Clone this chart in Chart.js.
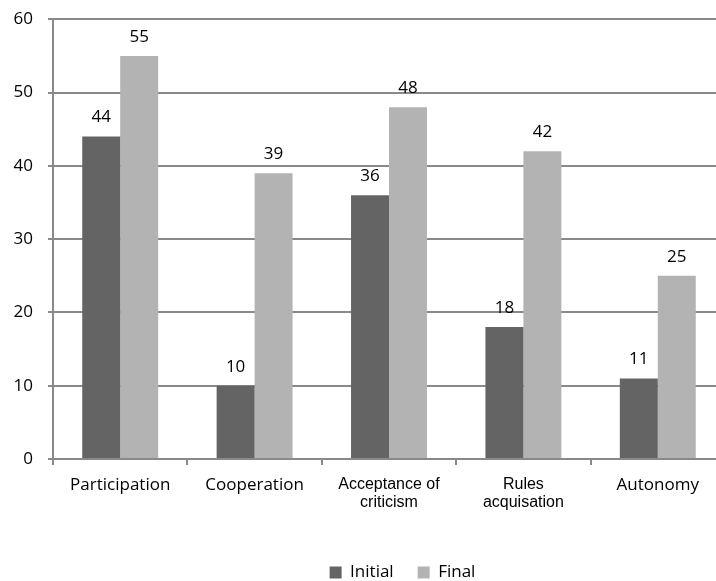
<!DOCTYPE html>
<html>
<head>
<meta charset="utf-8">
<script src="https://cdn.jsdelivr.net/npm/chart.js@4"></script>
<style>
  html, body { margin: 0; padding: 0; background: #fff; overflow: hidden; }
  #wrap { width: 726px; height: 591px; }
</style>
</head>
<body>
<div id="wrap"><canvas id="chart"></canvas></div>
<script>
// data
const categories = ["Participation", "Cooperation", ["Acceptance of", "criticism"], ["Rules", "acquisation"], "Autonomy"];
const initialValues = [44, 10, 36, 18, 11];
const finalValues = [55, 39, 48, 42, 25];
const yTicks = [0, 10, 20, 30, 40, 50, 60];

// small inline plugin for the numbers above each bar
const barValues = {
    id: "barValues",
    afterDatasetsDraw(chart) {
        const ctx = chart.ctx;
        ctx.save();
        ctx.font = "17px 'Open Sans'";
        ctx.fillStyle = "#000";
        ctx.textAlign = "center";
        ctx.textBaseline = "middle";
        chart.data.datasets.forEach((ds, i) => {
            chart.getDatasetMeta(i).data.forEach((bar, j) => {
                ctx.fillText(ds.data[j], bar.x, bar.y - 19);
            });
        });
        ctx.restore();
    }
};

// the original legend sits right of centre, nudge it over
const legendShift = {
    id: "legendShift",
    afterLayout(chart) {
        chart.legend.left += 40;
        chart.legend.right += 40;
    }
};

const gridColor = "#898989";

new Chart(document.getElementById("chart"), {
    type: "bar",
    data: {
        labels: categories,
        datasets: [
            { label: "Initial", data: initialValues, backgroundColor: "#646464", borderWidth: 0 },
            { label: "Final", data: finalValues, backgroundColor: "#b3b3b3", borderWidth: 0 }
        ]
    },
    options: {
        responsive: true,
        maintainAspectRatio: false,
        animation: false,
        layout: { padding: { top: 19, left: 0, right: 1, bottom: 0 } },
        datasets: { bar: { categoryPercentage: 0.565, barPercentage: 1 } },
        plugins: {
            tooltip: { enabled: false },
            legend: {
                position: "bottom",
                labels: {
                    font: { family: "Open Sans", size: 17 },
                    color: "#000",
                    boxWidth: 12,
                    boxHeight: 12,
                    padding: 24
                }
            }
        },
        scales: {
            x: {
                grid: { drawOnChartArea: false, drawTicks: true, tickLength: 6, color: gridColor, lineWidth: 2 },
                border: { color: gridColor, width: 2 },
                ticks: {
                    color: "#000",
                    padding: 10,
                    maxRotation: 0,
                    autoSkip: false,
                    font: c => (c.index === 2 || c.index === 3)
                        ? { family: "Liberation Sans", size: 16, lineHeight: 1.15 }
                        : { family: "Open Sans", size: 17 }
                },
                afterFit: s => { s.height = 81; }
            },
            y: {
                min: 0,
                max: 60,
                afterBuildTicks: s => { s.ticks = yTicks.map(v => ({ value: v })); },
                grid: { color: gridColor, lineWidth: 2, tickLength: 5 },
                border: { color: gridColor, width: 2 },
                ticks: { color: "#000", padding: 15, font: { family: "Open Sans", size: 17, lineHeight: 0.5 } },
                afterFit: s => { s.width = 53; }
            }
        }
    },
    plugins: [barValues, legendShift]
});
</script>
</body>
</html>
